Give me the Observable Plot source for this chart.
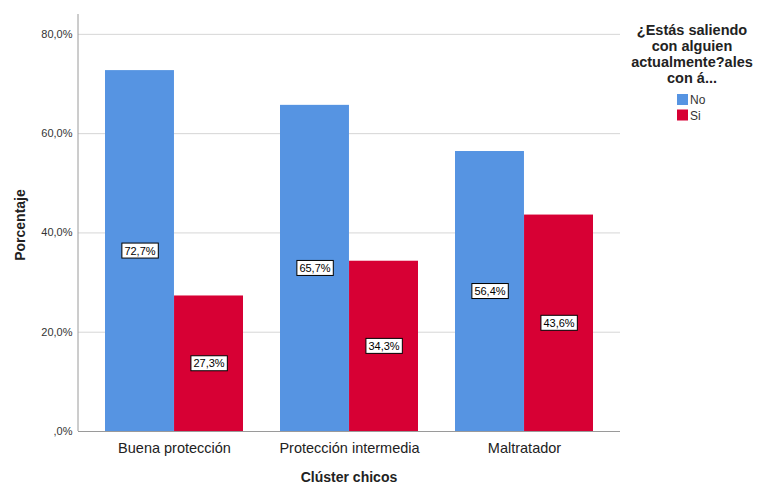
<!DOCTYPE html>
<html><head><meta charset="utf-8">
<script src="https://cdn.jsdelivr.net/npm/d3@7"></script>
<script src="https://cdn.jsdelivr.net/npm/@observablehq/plot@0.6"></script>
<style>body{margin:0;background:#fff;font-family:"Liberation Sans",Arial,sans-serif}</style>
</head><body><div id="chart"></div>
<script>
const categories = ["Buena protección", "Protección intermedia", "Maltratador"];
const seriesNames = ["No", "Si"];
const valuesNo = [72.7, 65.7, 56.4];
const valuesSi = [27.3, 34.3, 43.6];
const yTicks = [0, 20, 40, 60, 80];
const legendTitle = ["¿Estás saliendo", "con alguien", "actualmente?ales", "con á..."];
const xTitle = "Clúster chicos";
const yTitle = "Porcentaje";
const colors = ["#5694E2", "#D70034"];

const data = categories.flatMap((c, i) => [
  {cat: c, s: seriesNames[0], v: valuesNo[i]},
  {cat: c, s: seriesNames[1], v: valuesSi[i]}
]);

const W = 760, H = 484, mL = 78, mR = 140, mT = 14, mB = 53;
const pIn = 0.211, pOut = 0.154;
const step = (W - mL - mR) / (categories.length - pIn + 2 * pOut);
const bw = step * (1 - pIn);
const fmt = d => d.toFixed(1).replace(".", ",").replace(/^0,/, ",") + "%";

const noData = data.filter(d => d.s === seriesNames[0]);
const siData = data.filter(d => d.s === seriesNames[1]);

const chart = Plot.plot({
  width: W, height: H,
  marginLeft: mL, marginRight: mR, marginTop: mT, marginBottom: mB,
  style: {fontFamily: '"Liberation Sans", Arial, sans-serif', background: "#fff"},
  x: {domain: categories, paddingInner: pIn, paddingOuter: pOut},
  y: {domain: [0, 84]},
  marks: [
    Plot.ruleY(yTicks.slice(1), {stroke: "#d6d6d6"}),
    Plot.barY(noData, {x: "cat", y: "v", fill: colors[0], insetRight: bw / 2, insetLeft: 0}),
    Plot.barY(siData, {x: "cat", y: "v", fill: colors[1], insetLeft: bw / 2, insetRight: 0}),
    Plot.ruleY([0], {stroke: "#9a9a9a"}),
    Plot.axisY(yTicks, {tickSize: 0, tickPadding: 6, fontSize: 11, tickFormat: fmt, label: null, color: "#333"}),
    Plot.axisX({tickSize: 0, tickPadding: 11, fontSize: 14.5, label: null, color: "#222"}),
    Plot.text(noData, {x: "cat", y: d => d.v / 2, text: d => fmt(d.v), dx: -bw / 4, fontSize: 11, fill: "#000"}),
    Plot.text(siData, {x: "cat", y: d => d.v / 2, text: d => fmt(d.v), dx: bw / 4, fontSize: 11, fill: "#000"})
  ]
});
document.getElementById("chart").appendChild(chart);

const svg = d3.select(chart);
// label boxes
svg.selectAll("g[aria-label='text'] text").each(function() {
  const b = this.getBBox();
  d3.select(this.parentNode).insert("rect", () => this)
    .attr("transform", this.getAttribute("transform"))
    .attr("x", b.x - 2.5).attr("y", b.y - 1.5)
    .attr("width", b.width + 5).attr("height", b.height + 3)
    .attr("fill", "#fff").attr("stroke", "#000").attr("stroke-width", 1);
});
// left axis line
svg.append("line").attr("x1", mL).attr("x2", mL).attr("y1", mT).attr("y2", H - mB)
  .attr("stroke", "#9a9a9a");
// axis titles
svg.append("text").attr("x", (mL + W - mR) / 2).attr("y", 482).attr("text-anchor", "middle")
  .attr("font-size", 14).attr("font-weight", "bold").attr("fill", "#222").text(xTitle);
svg.append("text").attr("transform", "translate(25,225) rotate(-90)").attr("text-anchor", "middle")
  .attr("font-size", 14).attr("font-weight", "bold").attr("fill", "#222").text(yTitle);
// legend
const lg = svg.append("g");
legendTitle.forEach((t, i) => {
  lg.append("text").attr("x", 692).attr("y", 35 + i * 16).attr("text-anchor", "middle")
    .attr("font-size", 14.5).attr("font-weight", "bold").attr("fill", "#222").text(t);
});
seriesNames.forEach((s, i) => {
  lg.append("rect").attr("x", 677).attr("y", 94 + i * 15.5).attr("width", 11).attr("height", 11).attr("fill", colors[i]);
  lg.append("text").attr("x", 690).attr("y", 104 + i * 15.5).attr("text-anchor", "start")
    .attr("font-size", 12).attr("fill", "#333").text(s);
});
</script></body></html>
